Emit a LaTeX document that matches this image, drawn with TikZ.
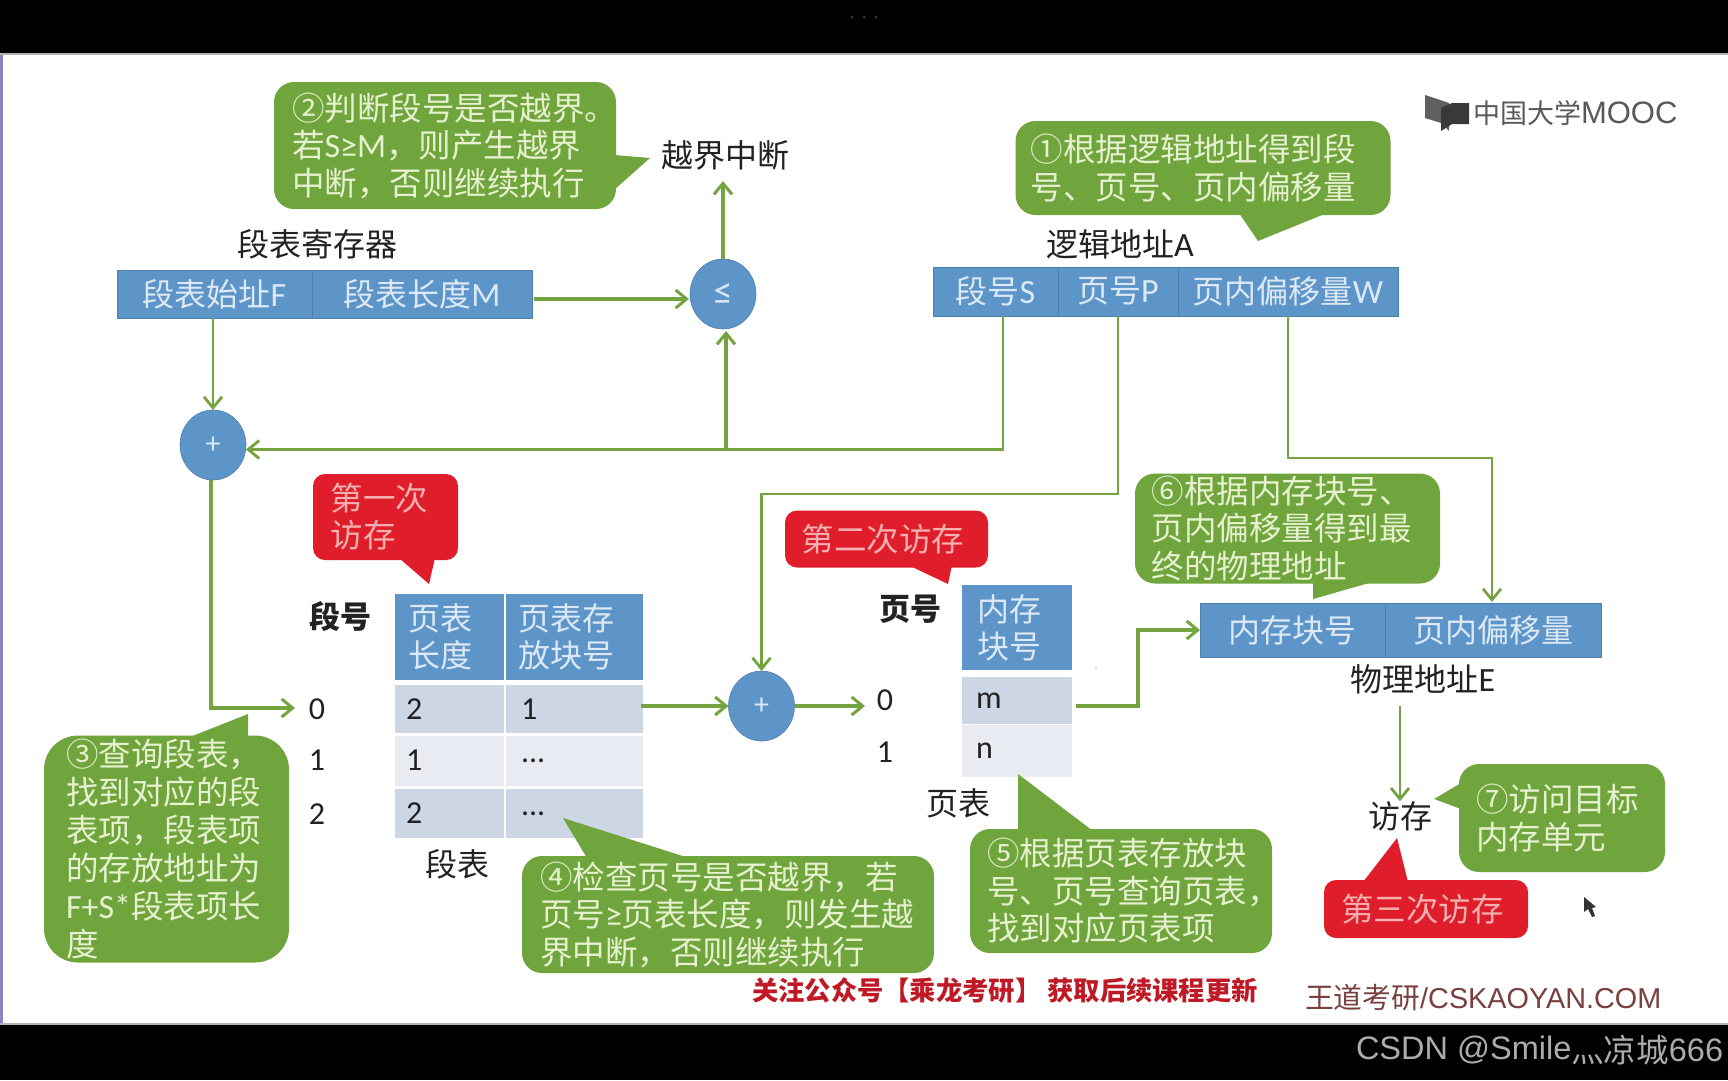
\documentclass[tikz,border=0pt]{standalone}
\usepackage{fontspec}
\setmainfont{Carlito}
\newfontfamily\cjk{Noto Sans CJK SC}
\newfontfamily\wm{Liberation Sans}
\usetikzlibrary{shapes.geometric,arrows.meta}
\definecolor{gfill}{HTML}{70A43C}
\definecolor{gline}{HTML}{74A33F}
\definecolor{gtext}{HTML}{E6F1CF}
\definecolor{bfill}{HTML}{5D95C9}
\definecolor{btext}{HTML}{DCE9F5}
\definecolor{rfill}{HTML}{E01E2B}
\definecolor{rtext}{HTML}{F4B0AE}
\definecolor{rowa}{HTML}{CDD6E5}
\definecolor{rowb}{HTML}{E8EBF2}
\definecolor{ink}{HTML}{222222}
\definecolor{wdink}{HTML}{7A3F3F}
\newcommand{\F}[1]{\fontsize{#1}{#1}\selectfont}
\newcommand{\LL}[1]{\mbox{#1}}
\newcommand{\La}[1]{{\rmfamily\fontsize{34}{34}\selectfont #1}}
\tikzset{
 x=1pt,y=-1pt,
 every node/.style={inner sep=0pt,outer sep=0pt},
 gbub/.style={fill=gfill,text=gtext,rounded corners=20pt,align=left,font=\cjk\fontsize{32.5}{37.5}\selectfont},
 gtail/.style={fill=gfill},
 rbub/.style={fill=rfill,text=rtext,rounded corners=12pt,align=left,font=\cjk\fontsize{32.5}{37}\selectfont},
 rtail/.style={fill=rfill},
 cellbox/.style={fill=bfill,text=btext,font=\cjk\F{32},draw=bfill!85!black,line width=.6pt},
 headbox/.style={fill=bfill,text=btext,align=left,font=\cjk\fontsize{32}{37}\selectfont},
 rowA/.style={fill=rowa,text=ink,font=\F{32},align=left},
 rowB/.style={fill=rowb,text=ink,font=\F{32},align=left},
 opnode/.style={ellipse,fill=bfill,draw=bfill!85!black,line width=.6pt,text=btext,minimum width=66pt,minimum height=70pt,font=\F{30}},
 lbl/.style={text=ink,font=\cjk\F{32}},
 blbl/.style={text=ink,font=\cjk\bfseries\F{31}},
 num/.style={text=ink,font=\F{32}},
 conn/.style={draw=gline,line width=3.4pt,-{Straight Barb[length=11pt,width=18pt,line width=3pt]}},
 connthin/.style={draw=gline,line width=2.8pt,-{Straight Barb[length=11pt,width=18pt,line width=2.8pt]}},
}
\begin{document}
\begin{tikzpicture}
\useasboundingbox (0,0) rectangle (1728,1080);
\fill[black] (0,0) rectangle (1728,1080);
\fill[white] (0,54) rectangle (1728,1024);
\fill[gray!60] (0,53) rectangle (1728,55);
\fill[gray!60] (0,1023) rectangle (1728,1025);
\fill[blue!35!gray!70] (0,55) rectangle (3,1023);
\foreach \xx in {852,864,876} \fill[gray!45!black] (\xx,17) circle (1.5pt);
\fill[gray!70] (1096,668) circle (.9pt);

% --- logo ---
\fill[gray!75!black] (1425,95) -- (1449,103) -- (1449,131) -- (1441,123) -- (1425,118) -- cycle;
\fill[gray!45!black] (1441,108) -- (1452,103) -- (1469,103) -- (1469,124) -- (1452,124) -- (1441,131) -- cycle;
\node[text=gray!70!black,font=\cjk\F{27},anchor=west] (logoa) at (1473,113) {中国大学};
\node[text=gray!70!black,font=\wm\F{31},anchor=west] (logob) at (logoa.east) {MOOC};

% --- segment table ---
\node[headbox,minimum width=109pt,minimum height=86pt,text width=82pt] (sh1) at (449,636.5) {\LL{页表}\\\LL{长度}};
\node[headbox,minimum width=137pt,minimum height=86pt,text width=112pt] (sh2) at (574,636.5) {\LL{页表存}\\\LL{放块号}};
\node[rowA,minimum width=109pt,minimum height=48pt,text width=86pt] (sa1) at (449,709) {2};
\node[rowA,minimum width=137pt,minimum height=48pt,text width=106pt] (sa2) at (574,709) {1};
\node[rowB,minimum width=109pt,minimum height=50pt,text width=86pt] (sb1) at (449,760.5) {1};
\node[rowB,minimum width=137pt,minimum height=50pt,text width=106pt] (sb2) at (574,760.5) {\raisebox{-5pt}{...}};
\node[rowA,minimum width=109pt,minimum height=49pt,text width=86pt] (sc1) at (449,813.5) {2};
\node[rowA,minimum width=137pt,minimum height=49pt,text width=106pt] (sc2) at (574,813.5) {\raisebox{-5pt}{...}};
\node[num] (n0) at (317,709) {0};
\node[num] (n1) at (317,760) {1};
\node[num] (n2) at (317,814) {2};

% --- page table ---
\node[headbox,minimum width=110pt,minimum height=85pt,text width=80pt] (ph) at (1017,627.5) {\LL{内存}\\\LL{块号}};
\node[rowA,minimum width=110pt,minimum height=47pt,text width=82pt] (pa) at (1017,700.5) {m};
\node[rowB,minimum width=110pt,minimum height=52pt,text width=82pt] (pb) at (1017,751) {n};
\node[num] (m0) at (885,700) {0};
\node[num] (m1) at (885,752) {1};

% --- bubble tails ---
\fill[gtail] (614,155) -- (650,158) -- (614,190) -- cycle;
\fill[gtail] (1239,213) -- (1258,241) -- (1327,213) -- cycle;
\fill[gtail] (190,737) -- (248,714) -- (248,737) -- cycle;
\fill[gtail] (587,858) -- (563,818) -- (689,858) -- cycle;
\fill[gtail] (1018,831) -- (1018,774) -- (1093,831) -- cycle;
\fill[gtail] (1313,581) -- (1313,599) -- (1376,581) -- cycle;
\fill[gtail] (1461,783) -- (1434,799) -- (1461,809) -- cycle;
\fill[rtail] (399,558) -- (429,584) -- (435,558) -- cycle;
\fill[rtail] (908,565) -- (948,584) -- (952,565) -- cycle;
\fill[rtail] (1363,882) -- (1397,838) -- (1408,882) -- cycle;

% --- green bubbles ---
\node[gbub,minimum width=342pt,minimum height=127pt,text width=306pt] (b2) at (445,145.5) {\LL{②判断段号是否越界。}\\\LL{若\La{S≥M}，则产生越界}\\\LL{中断，否则继续执行}};
\node[gbub,minimum width=375pt,minimum height=94pt,text width=345pt] (b1) at (1203,168) {\LL{①根据逻辑地址得到段}\\\LL{号、页号、页内偏移量}};
\node[gbub,rounded corners=34pt,minimum width=245pt,minimum height=227pt,text width=201pt,font=\cjk\fontsize{32.5}{38}\selectfont] (b3) at (166.5,849) {\LL{③查询段表，}\\\LL{找到对应的段}\\\LL{表项，段表项}\\\LL{的存放地址为}\\\LL{\La{F+S*}段表项长}\\\LL{度}};
\node[gbub,minimum width=412pt,minimum height=117pt,text width=376pt] (b4) at (728,914.5) {\LL{④检查页号是否越界，若}\\\LL{页号\La{≥}页表长度，则发生越}\\\LL{界中断，否则继续执行}};
\node[gbub,minimum width=302pt,minimum height=124pt,text width=268pt] (b5) at (1121,891) {\LL{⑤根据页表存放块}\\\LL{号、页号查询页表，}\\\LL{找到对应页表项}};
\node[gbub,minimum width=305pt,minimum height=110pt,text width=272pt] (b6) at (1287.5,528.5) {\LL{⑥根据内存块号、}\\\LL{页内偏移量得到最}\\\LL{终的物理地址}};
\node[gbub,minimum width=206pt,minimum height=108pt,text width=172pt] (b7) at (1562,818) {\LL{⑦访问目标}\\\LL{内存单元}};

% --- red bubbles ---
\node[rbub,minimum width=145pt,minimum height=86pt,text width=110pt] (r1) at (385.5,517) {\LL{第一次}\\\LL{访存}};
\node[rbub,minimum width=203pt,minimum height=57pt,text width=170pt] (r2) at (886.5,539) {\LL{第二次访存}};
\node[rbub,minimum width=204pt,minimum height=58pt,text width=170pt] (r3) at (1426,909) {\LL{第三次访存}};

% --- labels ---
\node[lbl] (lover) at (725,155) {越界中断};
\node[lbl] (lreg) at (317,244) {段表寄存器};
\node[lbl] (llog) at (1120,244) {逻辑地址\La{A}};
\node[blbl] (lsn) at (340,617) {段号};
\node[blbl] (lpn) at (910,609) {页号};
\node[lbl] (lseg) at (457,864) {段表};
\node[lbl] (lpage) at (958,803) {页表};
\node[lbl] (lphys) at (1423,679) {物理地址\La{E}};
\node[lbl] (lacc) at (1400,816) {访存};

% --- segment-table register ---
\node[cellbox,minimum width=195pt,minimum height=48pt] (regF) at (214.5,294) {段表始址\La{F}};
\node[cellbox,minimum width=220pt,minimum height=48pt] (regM) at (422,294) {段表长度\La{M}};

% --- logical address ---
\node[cellbox,minimum width=125pt,minimum height=49pt] (logS) at (995.5,291.5) {段号\La{S}};
\node[cellbox,minimum width=120pt,minimum height=49pt] (logP) at (1118,291.5) {页号\La{P}};
\node[cellbox,minimum width=220pt,minimum height=49pt] (logW) at (1288,291.5) {页内偏移量\La{W}};

% --- physical address ---
\node[cellbox,minimum width=185pt,minimum height=54pt] (phyB) at (1292.5,630) {内存块号};
\node[cellbox,minimum width=216pt,minimum height=54pt] (phyO) at (1493,630) {页内偏移量};

% --- operators ---
\node[opnode,font=\F{38}] (cmp) at (723,294) {≤};
\node[opnode] (addA) at (213,445) {+};
\node[opnode] (addB) at (761.5,706) {+};

% --- connector helpers ---
\coordinate (tipzero) at (295,708);
\coordinate (tipzeroP) at (865,706);
\coordinate (accStart) at (1400,706);
\coordinate (tipover) at (723,181);
\coordinate (sjoin) at (726,449.5);
\coordinate (pturn) at (761.5,494);
\coordinate (wturn) at (1492,458);
\coordinate (wend) at (1492,602);
\coordinate (mturn) at (1138,630);
\coordinate (cmpin) at (726,331);
\coordinate (regstart) at (534,299);
\coordinate (cmpwest) at (689,299);
\coordinate (addAeast) at (246,449.5);

% --- connectors ---
\draw[conn] (cmp.north) -- (tipover);
\draw[conn] (regstart) -- (cmpwest);
\draw[connthin] (addA.north |- regF.south) -- (addA.north);
\draw[conn] ([xshift=-2pt]addA.south) |- (tipzero);
\draw[connthin] ([xshift=7.5pt]logS.south) |- (addAeast);
\draw[conn] (sjoin) -- (cmpin);
\draw[connthin] (logP.south) |- (pturn) -- (addB.north);
\draw[connthin] (logW.south) |- (wturn) -- (wend);
\draw[conn] ([xshift=-2pt]sa2.east |- addB.west) -- (addB.west);
\draw[conn] (addB.east) -- (tipzeroP);
\draw[conn] ([xshift=4pt,yshift=-5.5pt]pa.east) -| (mturn) -- (phyB.west |- mturn);
\draw[connthin] (accStart) -- (lacc.north);

% --- footer ---
\node[text=rfill!85!black,font=\cjk\bfseries\F{26.3},anchor=center] (foot) at (1005,990) {关注公众号【乘龙考研】 获取后续课程更新};
\node[anchor=west,text=wdink,font=\cjk\F{28.8}] (wda) at (1305,998) {王道考研};
\node[anchor=west,text=wdink,font=\wm\F{28.8}] (wdb) at (wda.east) {/CSKAOYAN.COM};
\node[anchor=west,text=gray!65,font=\wm\F{32.5}] (csa) at (1356,1050) {CSDN @Smile};
\node[anchor=west,text=gray!65,font=\cjk\F{32.5}] (csb) at (csa.east) {灬凉城};
\node[anchor=west,text=gray!65,font=\wm\F{32.5}] (csc) at (csb.east) {666};

% --- mouse pointer ---
\fill[black!80] (1584,897) -- (1584,912) -- (1588,909) -- (1592,917) -- (1595,916) -- (1592,908) -- (1596,907) -- cycle;
\end{tikzpicture}
\end{document}
